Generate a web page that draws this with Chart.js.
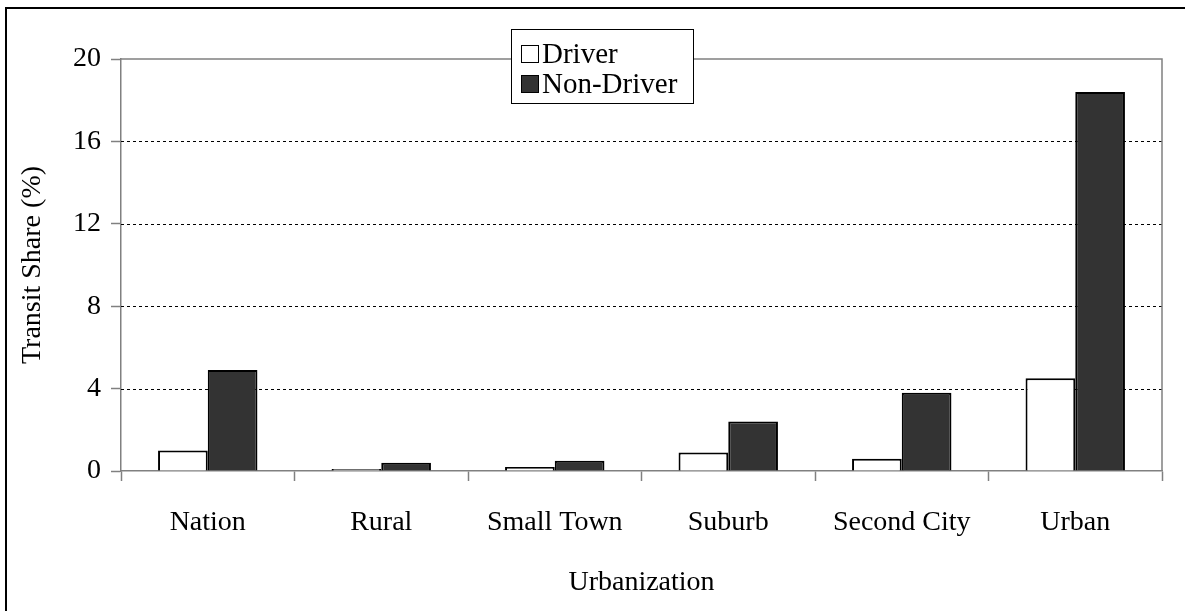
<!DOCTYPE html>
<html>
<head>
<meta charset="utf-8">
<script src="https://cdn.jsdelivr.net/npm/chart.js@4"></script>
<style>
  html, body { margin: 0; padding: 0; background: #fff; }
</style>
</head>
<body>
<canvas id="chartTransit" width="1185" height="611"></canvas>
<script>
// dados
const categorias = ['Nation', 'Rural', 'Small Town', 'Suburb', 'Second City', 'Urban'];
const driver = [1.0, 0.1, 0.2, 0.9, 0.6, 4.5];
const nonDriver = [4.9, 0.4, 0.5, 2.4, 3.8, 18.4];
const yTicks = [0, 4, 8, 12, 16, 20];

const fonte = "'Liberation Serif', 'Times New Roman', serif";

// moldura externa, borda do plot e linhas de grade tracejadas
const molduraPlugin = {
    id: 'moldura',
    beforeDraw(chart) {
        const c = chart.ctx;
        c.save();
        c.fillStyle = '#fff';
        c.fillRect(0, 0, chart.width, chart.height);
        c.strokeStyle = '#000';
        c.lineWidth = 2;
        c.beginPath();
        c.moveTo(6, chart.height + 2);
        c.lineTo(6, 8);
        c.lineTo(chart.width + 2, 8);
        c.stroke();
        c.restore();
    },
    beforeDatasetsDraw(chart) {
        const a = chart.chartArea;
        const c = chart.ctx;
        const y = chart.scales.y;
        c.save();
        c.strokeStyle = '#000';
        c.lineWidth = 1;
        c.setLineDash([3, 3]);
        yTicks.forEach(v => {
            if (v === 0 || v === 20) return;
            const py = Math.round(y.getPixelForValue(v)) + 0.5;
            c.beginPath();
            c.moveTo(a.left, py);
            c.lineTo(a.right, py);
            c.stroke();
        });
        c.setLineDash([]);
        c.strokeStyle = '#808080';
        c.lineWidth = 1.5;
        c.beginPath();
        c.moveTo(a.left, a.top);
        c.lineTo(a.right, a.top);
        c.lineTo(a.right, a.bottom);
        c.stroke();
        c.restore();
    }
};

// legenda em caixa, por cima do grafico
const legendaPlugin = {
    id: 'legendaCaixa',
    afterDraw(chart) {
        const c = chart.ctx;
        const box = { x: 511, y: 29, w: 182, h: 74 };
        c.save();
        c.fillStyle = '#fff';
        c.fillRect(box.x, box.y, box.w, box.h);
        c.strokeStyle = '#000';
        c.lineWidth = 1;
        c.strokeRect(box.x + 0.5, box.y + 0.5, box.w, box.h);
        c.font = '29px ' + fonte;
        c.textBaseline = 'middle';
        c.textAlign = 'left';
        chart.data.datasets.forEach((ds, i) => {
            const cy = box.y + 25 + i * 30;
            c.fillStyle = ds.backgroundColor;
            c.fillRect(box.x + 10, cy - 9, 18, 18);
            c.strokeStyle = '#000';
            c.lineWidth = 1;
            c.strokeRect(box.x + 10.5, cy - 8.5, 17, 17);
            c.fillStyle = '#000';
            c.fillText(ds.label, box.x + 31, cy + 1);
        });
        c.restore();
    }
};

const ctx = document.getElementById('chartTransit');

new Chart(ctx, {
    type: 'bar',
    data: {
        labels: categorias,
        datasets: [{
            label: 'Driver',
            data: driver,
            backgroundColor: '#ffffff',
            borderColor: '#000000',
            borderWidth: 2
        }, {
            label: 'Non-Driver',
            data: nonDriver,
            backgroundColor: '#333333',
            borderColor: '#000000',
            borderWidth: 2
        }]
    },
    options: {
        responsive: false,
        animation: false,
        datasets: {
            bar: { barPercentage: 1.0, categoryPercentage: 0.573 }
        },
        layout: { padding: { left: 10, top: 59, right: 23, bottom: 0 } },
        plugins: {
            legend: { display: false },
            tooltip: { enabled: false }
        },
        scales: {
            x: {
                afterFit: s => { s.height = 140; },
                grid: {
                    offset: true,
                    drawOnChartArea: false,
                    tickLength: 10,
                    tickColor: '#808080',
                    tickWidth: 1.5
                },
                border: { color: '#808080', width: 1.5 },
                ticks: {
                    color: '#000',
                    padding: 25,
                    maxRotation: 0,
                    font: { family: fonte, size: 28 }
                },
                title: {
                    display: true,
                    text: 'Urbanization',
                    color: '#000',
                    padding: { top: 0, bottom: 12 },
                    font: { family: fonte, size: 28 }
                }
            },
            y: {
                min: 0,
                max: 20,
                afterFit: s => { s.width = 111; },
                afterBuildTicks: s => { s.ticks = yTicks.map(v => ({ value: v })); },
                grid: {
                    drawOnChartArea: false,
                    tickLength: 10,
                    tickColor: '#808080',
                    tickWidth: 1.5
                },
                border: { color: '#808080', width: 1.5 },
                ticks: {
                    color: '#000',
                    padding: 10,
                    font: { family: fonte, size: 28 }
                },
                title: {
                    display: true,
                    text: 'Transit Share (%)',
                    color: '#000',
                    padding: { top: 6, bottom: 0 },
                    font: { family: fonte, size: 28 }
                }
            }
        }
    },
    plugins: [molduraPlugin, legendaPlugin]
});
</script>
</body>
</html>
